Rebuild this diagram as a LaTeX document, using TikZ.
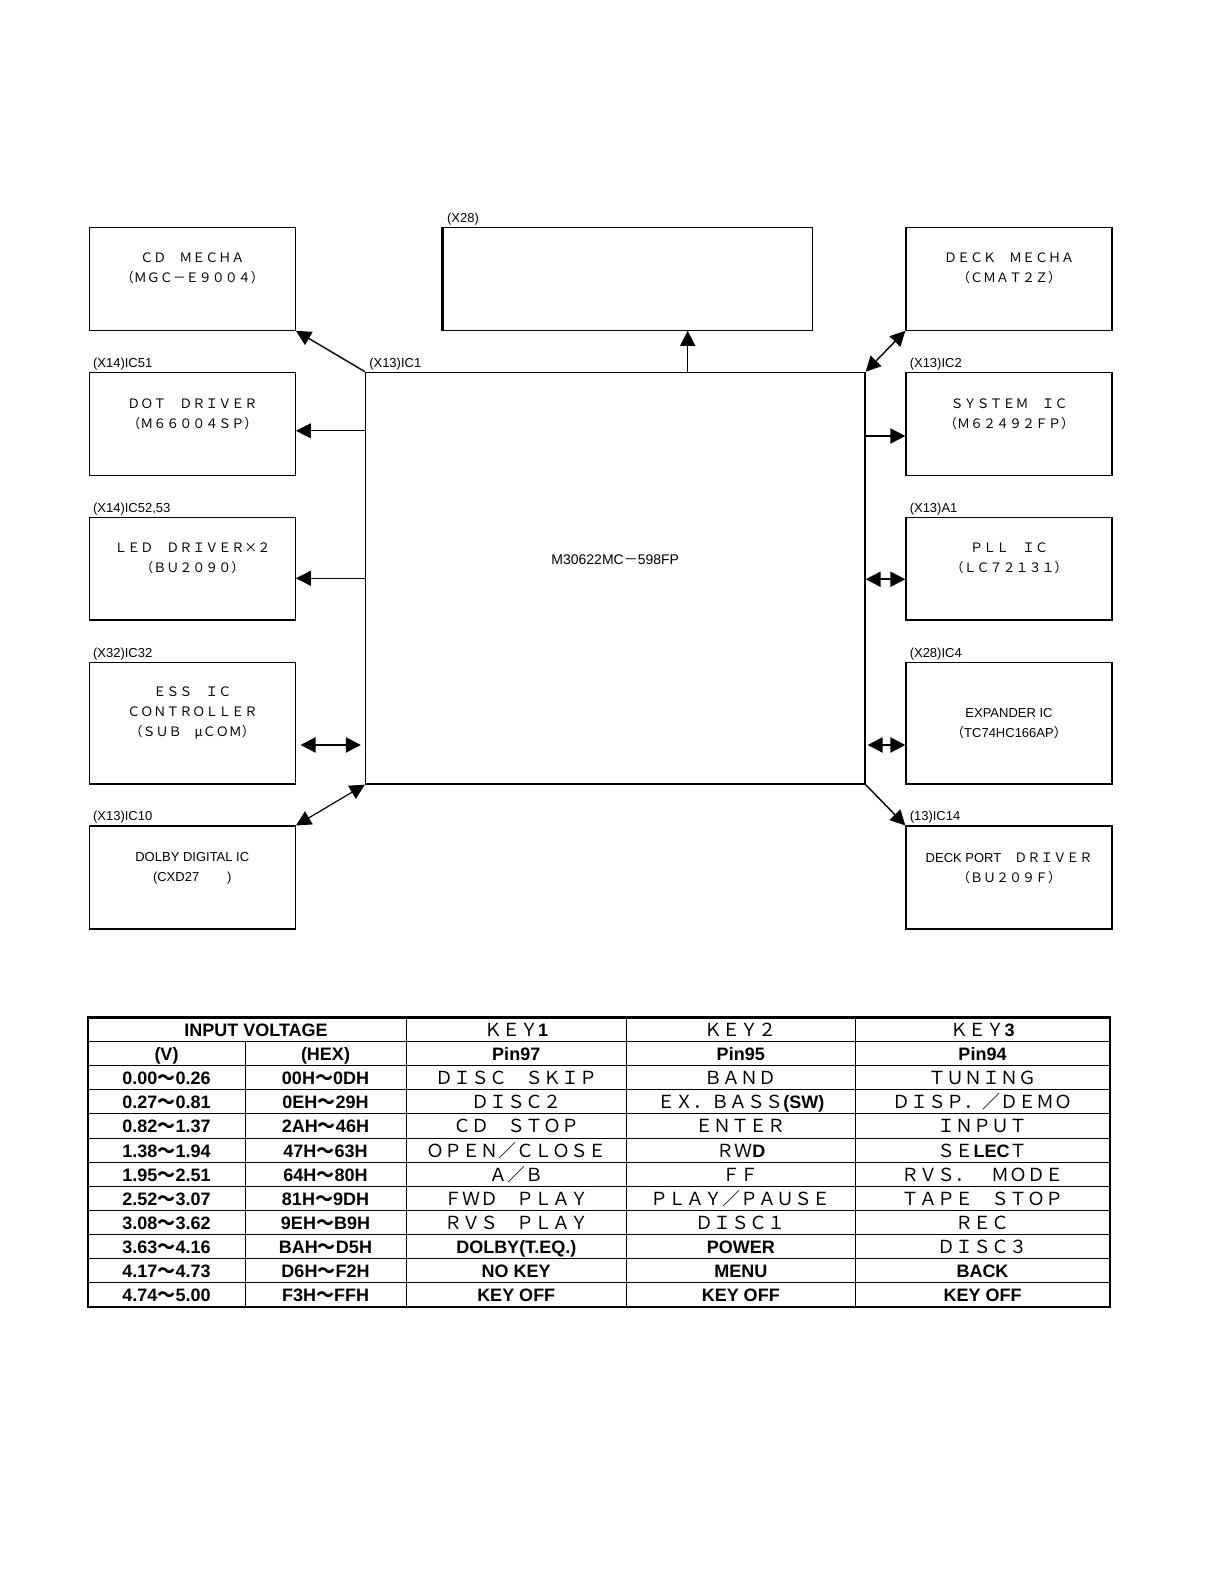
\documentclass[tikz,border=0pt]{standalone}
\usepackage{fontspec}
\setmainfont{Liberation Sans}
\newfontfamily\jfont{Noto Sans CJK JP}
\usepackage{tikz}
\usetikzlibrary{arrows.meta,positioning,calc}

\newcommand\hb[1]{{\normalfont\bfseries #1}}
\newcommand\W{{\jfont ～}}

\begin{document}
\begin{tikzpicture}[
  x=0.5pt, y=-0.5pt,
  blk/.style={draw, line width=0.65pt, minimum width=103pt,
    minimum height=51.4pt, inner sep=0pt},
  btext/.style={font=\jfont\fontsize{6.5}{10}\selectfont, align=center,
    inner sep=0pt},
  tag/.style={font=\fontsize{6.5}{8}\selectfont, anchor=base west,
    inner sep=0pt, xshift=2pt, yshift=2.3pt},
  arr/.style={line width=0.7pt, -{Triangle[length=7.5pt,width=7.5pt]}},
  darr/.style={line width=1.1pt,
    {Triangle[length=7.5pt,width=7.5pt]}-{Triangle[length=7.5pt,width=7.5pt]}},
  cell/.style={font=\fontsize{9}{11}\selectfont\bfseries, text height=7pt,
    text depth=0pt, inner sep=0pt},
  kcell/.style={font=\jfont\fontsize{9}{11}\selectfont, text height=7pt,
    text depth=0pt, inner sep=0pt},
]
\useasboundingbox (0,0) rectangle (1228,1586);

% main controller
\node[draw, line width=0.65pt, minimum width=249.75pt, minimum height=205.85pt,
  inner sep=0pt, label={[tag]north west:{(X13)IC1}}] (mcu) at (615.25,578.15) {};
\node[inner sep=0pt, font=\fontsize{7}{9}\selectfont] (mcu-t)
  at ([yshift=9pt]mcu.center) {M30622MC{\jfont －}598FP};

% display box
\node[blk, minimum width=184.7pt, label={[tag]north west:{(X28)}}] (x28) at (628,278.75) {};
\draw[line width=1.3pt] (x28.north west) -- (x28.south west);

% left column
\node[blk] (cd) at (192.3,278.75) {};
\node[blk, label={[tag]north west:{(X14)IC51}}] (dot) at (192.3,423.8) {};
\node[blk, label={[tag]north west:{(X14)IC52,53}}] (led) at (192.3,568.65) {};
\node[blk, minimum height=60.85pt, label={[tag]north west:{(X32)IC32}}] (ess) at (192.3,723.15) {};
\node[blk, label={[tag]north west:{(X13)IC10}}] (dolby) at (192.3,877.5) {};

% right column
\node[blk] (deck) at (1009,278.75) {};
\node[blk, label={[tag]north west:{(X13)IC2}}] (sys) at (1009,423.8) {};
\node[blk, label={[tag]north west:{(X13)A1}}] (pll) at (1009,568.65) {};
\node[blk, minimum height=60.85pt, label={[tag]north west:{(X28)IC4}}] (exp) at (1009,723.15) {};
\node[blk, label={[tag]north west:{(13)IC14}}] (port) at (1009,877.5) {};

% box texts
\node[btext] (cd-t) at ([yshift=5pt]cd.center) {ＣＤ　ＭＥＣＨＡ\\（ＭＧＣ－Ｅ９００４）};
\node[btext] (dot-t) at ([yshift=5pt]dot.center) {ＤＯＴ　ＤＲＩＶＥＲ\\（Ｍ６６００４ＳＰ）};
\node[btext] (led-t) at ([yshift=5pt]led.center) {ＬＥＤ　ＤＲＩＶＥＲ×２\\（ＢＵ２０９０）};
\node[btext] (ess-t) at ([yshift=5pt]ess.center) {ＥＳＳ　ＩＣ\\ＣＯＮＴＲＯＬＬＥＲ\\（ＳＵＢ　μＣＯＭ）};
\node[btext, font=\fontsize{6.5}{10}\selectfont] (dolby-t) at ([yshift=4.5pt]dolby.center)
  {DOLBY DIGITAL IC\\(CXD27\hspace{14pt})};
\node[btext] (deck-t) at ([yshift=5pt]deck.center) {ＤＥＣＫ　ＭＥＣＨＡ\\（ＣＭＡＴ２Ｚ）};
\node[btext] (sys-t) at ([yshift=5pt]sys.center) {ＳＹＳＴＥＭ　ＩＣ\\（Ｍ６２４９２ＦＰ）};
\node[btext] (pll-t) at ([yshift=5pt]pll.center) {ＰＬＬ　ＩＣ\\（ＬＣ７２１３１）};
\node[btext] (exp-t) at (exp.center) {\normalfont EXPANDER IC\\（\normalfont TC74HC166AP\jfont ）};
\node[btext] (port-t) at ([yshift=4.5pt]port.center) {\normalfont DECK PORT\jfont 　ＤＲＩＶＥＲ\\（ＢＵ２０９Ｆ）};

% connector points
\coordinate (dotin) at ([yshift=-3.5pt]dot.east);
\coordinate (ledin) at ([yshift=-4.8pt]led.east);
\coordinate (essin) at ([yshift=-10.9pt]ess.east);
\coordinate (x28in) at ([xshift=29.85pt]x28.south);
\coordinate (sysin) at ([yshift=-6.1pt]sys.west);
\coordinate (pllin) at ([yshift=-5.3pt]pll.west);
\coordinate (expin) at ([yshift=-10.9pt]exp.west);

% connectors
\draw[arr] (mcu.north west) -- (cd.south east);
\draw[arr, line width=0.55pt] (mcu.west |- dotin) -- (dotin);
\draw[arr, line width=0.55pt] (mcu.west |- ledin) -- (ledin);
\draw[darr, shorten <=2.3pt, shorten >=2pt] (essin) -- (mcu.west |- essin);
\draw[darr, line width=0.6pt] (mcu.south west) -- (dolby.north east);
\draw[arr] (mcu.north -| x28in) -- (x28in);
\draw[darr, line width=0.7pt] (mcu.north east) -- (deck.south west);
\draw[arr, line width=1.1pt] (mcu.east |- sysin) -- (sysin);
\draw[darr] (mcu.east |- pllin) -- (pllin);
\draw[darr, shorten <=1pt] (mcu.east |- expin) -- (expin);
\draw[arr] (mcu.south east) -- (port.north west);

% key table
\draw[line width=1.2pt] (88,1017.5) rectangle (1110,1306.7);
\foreach \k in {1,...,11}
  \draw[line width=0.5pt] (88,{1017.5+\k*24.1}) -- (1110,{1017.5+\k*24.1});
\foreach \x in {406,626.5,855}
  \draw[line width=0.5pt] (\x,1017.5) -- (\x,1306.7);
\draw[line width=0.5pt] (245,1041.6) -- (245,1306.7);

\node[cell] (hin) at (256,1029.55) {INPUT VOLTAGE};
\node[kcell] (hk1) at (516.25,1029.55) {ＫＥＹ\hb{1}};
\node[kcell] (hk2) at (740.75,1029.55) {ＫＥＹ２};
\node[kcell] (hk3) at (982.5,1029.55) {ＫＥＹ\hb{3}};
\node[cell] (hv) at (166.5,1053.65) {(V)};
\node[cell] (hhex) at (325.5,1053.65) {(HEX)};
\node[cell] (hp1) at (516.25,1053.65) {Pin97};
\node[cell] (hp2) at (740.75,1053.65) {Pin95};
\node[cell] (hp3) at (982.5,1053.65) {Pin94};

\foreach \v/\h/\ka/\kb/\kc [count=\r from 2] in {
  0.00\W{}0.26/00H\W{}0DH/ＤＩＳＣ　ＳＫＩＰ/ＢＡＮＤ/ＴＵＮＩＮＧ,
  0.27\W{}0.81/0EH\W{}29H/ＤＩＳＣ２/ＥＸ．ＢＡＳＳ\hb{(SW)}/ＤＩＳＰ．／ＤＥＭＯ,
  0.82\W{}1.37/2AH\W{}46H/ＣＤ　ＳＴＯＰ/ＥＮＴＥＲ/ＩＮＰＵＴ,
  1.38\W{}1.94/47H\W{}63H/ＯＰＥＮ／ＣＬＯＳＥ/ＲＷ\hb{D}/ＳＥ\hb{LEC}Ｔ,
  1.95\W{}2.51/64H\W{}80H/Ａ／Ｂ/ＦＦ/ＲＶＳ．　ＭＯＤＥ,
  2.52\W{}3.07/81H\W{}9DH/ＦＷＤ　ＰＬＡＹ/ＰＬＡＹ／ＰＡＵＳＥ/ＴＡＰＥ　ＳＴＯＰ,
  3.08\W{}3.62/9EH\W{}B9H/ＲＶＳ　ＰＬＡＹ/ＤＩＳＣ１/ＲＥＣ,
  3.63\W{}4.16/BAH\W{}D5H/\hb{DOLBY(T.EQ.)}/\hb{POWER}/ＤＩＳＣ３,
  4.17\W{}4.73/D6H\W{}F2H/\hb{NO KEY}/\hb{MENU}/\hb{BACK},
  4.74\W{}5.00/F3H\W{}FFH/\hb{KEY OFF}/\hb{KEY OFF}/\hb{KEY OFF}}{
  \node[cell] (v\r) at (166.5,{1017.5+(\r+0.5)*24.1}) {\v};
  \node[cell] (h\r) at (325.5,{1017.5+(\r+0.5)*24.1}) {\h};
  \node[kcell] (ka\r) at (516.25,{1017.5+(\r+0.5)*24.1}) {\ka};
  \node[kcell] (kb\r) at (740.75,{1017.5+(\r+0.5)*24.1}) {\kb};
  \node[kcell] (kc\r) at (982.5,{1017.5+(\r+0.5)*24.1}) {\kc};
}
\end{tikzpicture}
\end{document}
